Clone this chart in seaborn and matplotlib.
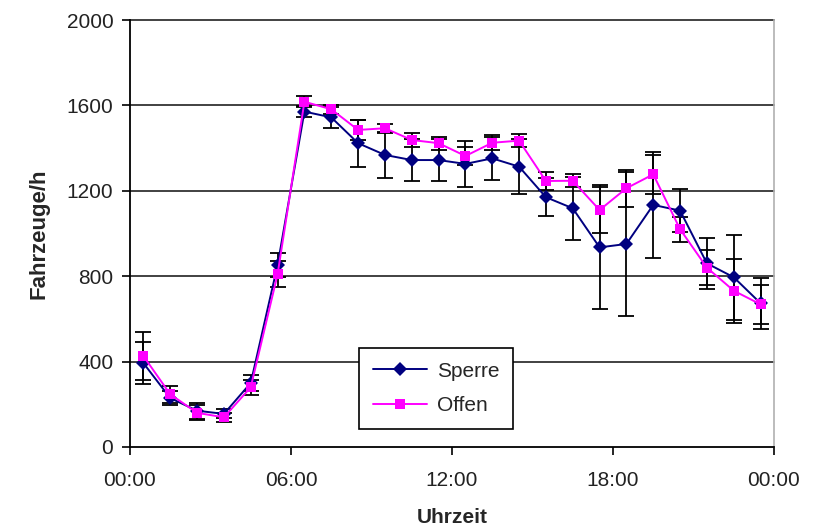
import matplotlib
matplotlib.use("Agg")
import matplotlib.pyplot as plt
import seaborn as sns
import pandas as pd
import numpy as np
from matplotlib.lines import Line2D

hours = [0.5, 1.5, 2.5, 3.5, 4.5, 5.5, 6.5, 7.5, 8.5, 9.5, 10.5, 11.5,
         12.5, 13.5, 14.5, 15.5, 16.5, 17.5, 18.5, 19.5, 20.5, 21.5, 22.5, 23.5]
sperre = [393, 229, 170, 155, 300, 852, 1571, 1544, 1423, 1368, 1344, 1344,
          1326, 1352, 1313, 1170, 1118, 935, 951, 1134, 1107, 860, 795, 673]
offen = [426, 247, 160, 139, 280, 809, 1617, 1582, 1485, 1493, 1438, 1423,
         1363, 1425, 1435, 1246, 1247, 1110, 1212, 1277, 1020, 840, 732, 668]
sperre_err = [99, 33, 37, 21, 39, 55, 25, 50, 110, 107, 100, 100,
              108, 100, 128, 88, 148, 290, 337, 250, 100, 121, 198, 120]
offen_err = [111, 39, 35, 20, 35, 60, 25, 20, 45, 20, 35, 30,
             40, 35, 30, 44, 30, 106, 86, 90, 58, 83, 150, 90]
series_names = ["Sperre", "Offen"]
x_ticks = [0, 6, 12, 18, 24]
x_tick_labels = ["00:00", "06:00", "12:00", "18:00", "00:00"]
y_ticks = [0, 400, 800, 1200, 1600, 2000]

sns.set_theme(style="white")
plt.rcParams['font.family'] = ['Liberation Sans', 'DejaVu Sans']

df = pd.DataFrame({
    "Uhrzeit": hours * 2,
    "Fahrzeuge/h": sperre + offen,
    "Serie": [series_names[0]] * len(hours) + [series_names[1]] * len(hours),
})

fig = plt.figure(figsize=(8.25, 5.32), dpi=100)
ax = fig.add_axes([130 / 825, 1 - 447 / 532, 644 / 825, 427 / 532])

for y in y_ticks[1:]:
    ax.axhline(y, color="#333333", lw=1.3, zorder=0, clip_on=False)

palette = {"Sperre": "#000080", "Offen": "#FF00FF"}
markers = {"Sperre": "D", "Offen": "s"}

ax.errorbar(hours, sperre, yerr=sperre_err, fmt="none", ecolor="black",
            elinewidth=1.3, capsize=5.5, capthick=1.3, zorder=2)
ax.errorbar(hours, offen, yerr=offen_err, fmt="none", ecolor="black",
            elinewidth=1.3, capsize=5.5, capthick=1.3, zorder=2)

sns.lineplot(data=df, x="Uhrzeit", y="Fahrzeuge/h", hue="Serie", style="Serie",
             palette=palette, markers=markers, dashes=False, markersize=7.5,
             markeredgewidth=0, linewidth=1.4, ax=ax, zorder=3, legend=False,
             sort=False)

ax.set_xlim(0, 24)
ax.set_ylim(0, 2000)
ax.set_xticks(x_ticks)
ax.set_xticklabels(x_tick_labels)
ax.set_yticks(y_ticks)
ax.tick_params(axis="both", direction="out", length=6, width=1.2, color="black",
               labelsize=15, labelcolor="#222222", pad=6)
ax.tick_params(axis="x", pad=11)
ax.tick_params(left=True, bottom=True)

for side in ["left", "bottom"]:
    ax.spines[side].set_color("black")
    ax.spines[side].set_linewidth(1.3)
ax.spines["top"].set_visible(False)
ax.spines["right"].set_color("#b0b0b0")
ax.spines["right"].set_linewidth(1.2)

ax.set_xlabel("Uhrzeit", fontsize=15, fontweight="bold", labelpad=13)
ax.set_ylabel("Fahrzeuge/h", fontsize=16, fontweight="bold", labelpad=12)

handles = [Line2D([], [], color=palette[n], marker=markers[n], markersize=7.5,
                  markeredgewidth=0, lw=1.4) for n in series_names]
leg = ax.legend(handles, series_names, loc="upper left",
                bbox_to_anchor=((359 - 130) / 644, (447 - 348) / 427),
                frameon=True, fancybox=False, fontsize=15, handlelength=2.6,
                borderpad=0.65, labelspacing=0.75, handletextpad=0.5,
                borderaxespad=0)
leg.get_frame().set_edgecolor("black")
leg.get_frame().set_linewidth(1.2)
leg.get_frame().set_facecolor("white")
leg.get_frame().set_alpha(1)

fig.savefig("out.png", dpi=100)
